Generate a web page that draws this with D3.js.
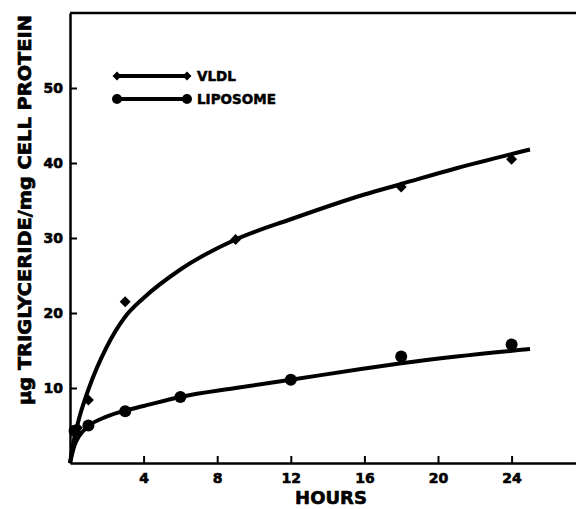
<!DOCTYPE html>
<html>
<head>
<meta charset="utf-8">
<script src="https://cdn.jsdelivr.net/npm/d3@7"></script>
<style>
  body { margin: 0; background: #fff; }
  svg text { font-family: "DejaVu Sans", sans-serif; font-weight: bold; fill: #000; }
</style>
</head>
<body>
<div id="chart"></div>
<script>
// measured points
var hoursVldl = [0.4, 1, 3, 9, 18, 24];
var vldl = [4.7, 8.4, 21.5, 29.8, 36.8, 40.5];
var hoursLipo = [0.25, 1, 3, 6, 12, 18, 24];
var liposome = [4.3, 5.0, 6.9, 8.8, 11.1, 14.2, 15.8];

// hand drawn curves
var fitHours = [0, 0.25, 0.5, 1, 2, 3, 4, 6, 9, 12, 16, 18, 21, 25];
var vldlFit = [0, 3.5, 6, 9.8, 15.5, 19.5, 22, 25.8, 29.8, 32.5, 35.8, 37.2, 39.3, 41.8];
var lipoFit = [0, 2.4, 3.6, 4.9, 6.2, 7.0, 7.6, 8.8, 10.0, 11.1, 12.6, 13.3, 14.2, 15.2];

var xTicks = [4, 8, 12, 16, 20, 24];
var yTicks = [10, 20, 30, 40, 50];

var width = 576, height = 509;
var svg = d3.select('#chart').append('svg')
    .attr('width', width)
    .attr('height', height);

var x = d3.scaleLinear().domain([0, 27.5]).range([70, 576]);
var y = d3.scaleLinear().domain([0, 60]).range([463, 13]);

// frame: top line
svg.append('line')
    .attr('x1', x(0)).attr('x2', width)
    .attr('y1', y(60)).attr('y2', y(60))
    .attr('stroke', '#000').attr('stroke-width', 2.5);

var xAxis = svg.append('g')
    .attr('transform', `translate(0,${y(0)})`)
    .call(d3.axisBottom(x).tickValues(xTicks).tickSize(-7).tickPadding(10).tickSizeOuter(0));
var yAxis = svg.append('g')
    .attr('transform', `translate(${x(0)},0)`)
    .call(d3.axisLeft(y).tickValues(yTicks).tickSize(-7).tickPadding(7).tickSizeOuter(0));

[xAxis, yAxis].forEach(function(g) {
    g.select('.domain').attr('stroke-width', 2.5);
    g.selectAll('.tick line').attr('stroke-width', 2);
    g.selectAll('.tick text')
        .style('font-size', '14px')
        .style('font-family', '"DejaVu Sans", sans-serif')
        .style('font-weight', 'bold')
        .attr('stroke', '#000').attr('stroke-width', 0.6);
});

svg.append('text')
    .attr('x', 331).attr('y', 504)
    .attr('text-anchor', 'middle')
    .attr('stroke', '#000').attr('stroke-width', 0.6)
    .style('font-size', '18px')
    .text('HOURS');

svg.append('text')
    .attr('transform', 'translate(31,210) rotate(-90)')
    .attr('text-anchor', 'middle')
    .attr('textLength', 390)
    .attr('lengthAdjust', 'spacingAndGlyphs')
    .attr('stroke', '#000').attr('stroke-width', 0.7)
    .style('font-size', '18px')
    .text('\u03bcg TRIGLYCERIDE/mg CELL PROTEIN');

// curves
var line = d3.line()
    .x(function(d) { return x(d[0]); })
    .y(function(d) { return y(d[1]); })
    .curve(d3.curveMonotoneX);

svg.append('path')
    .datum(fitHours.map(function(h, i) { return [h, vldlFit[i]]; }))
    .attr('d', line)
    .attr('fill', 'none').attr('stroke', '#000').attr('stroke-width', 4);
svg.append('path')
    .datum(fitHours.map(function(h, i) { return [h, lipoFit[i]]; }))
    .attr('d', line)
    .attr('fill', 'none').attr('stroke', '#000').attr('stroke-width', 4);

// regular diamond = square turned 45 degrees
var square = d3.symbol().type(d3.symbolSquare);

svg.append('g').selectAll('path')
    .data(hoursVldl.map(function(h, i) { return [h, vldl[i]]; }))
    .enter().append('path')
    .attr('d', square.size(60))
    .attr('transform', function(d) { return `translate(${x(d[0])},${y(d[1])}) rotate(45)`; })
    .attr('fill', '#000');

svg.append('g').selectAll('circle')
    .data(hoursLipo.map(function(h, i) { return [h, liposome[i]]; }))
    .enter().append('circle')
    .attr('cx', function(d) { return x(d[0]); })
    .attr('cy', function(d) { return y(d[1]); })
    .attr('r', 6)
    .attr('fill', '#000');

// legend
var legend = svg.append('g');
var lx1 = 117, lx2 = 187;
[{name: 'VLDL', y: 76, mark: 'd'}, {name: 'LIPOSOME', y: 99, mark: 'c'}].forEach(function(it) {
    legend.append('line')
        .attr('x1', lx1).attr('x2', lx2).attr('y1', it.y).attr('y2', it.y)
        .attr('stroke', '#000').attr('stroke-width', 4);
    [lx1, lx2].forEach(function(px) {
        if (it.mark === 'd') {
            legend.append('path').attr('d', square.size(40))
                .attr('transform', `translate(${px},${it.y}) rotate(45)`).attr('fill', '#000');
        } else {
            legend.append('circle').attr('cx', px).attr('cy', it.y).attr('r', 5).attr('fill', '#000');
        }
    });
    legend.append('text')
        .attr('x', 197).attr('y', it.y + 5)
        .attr('stroke', '#000').attr('stroke-width', 0.5)
        .style('font-size', '13.5px')
        .text(it.name);
});
</script>
</body>
</html>
